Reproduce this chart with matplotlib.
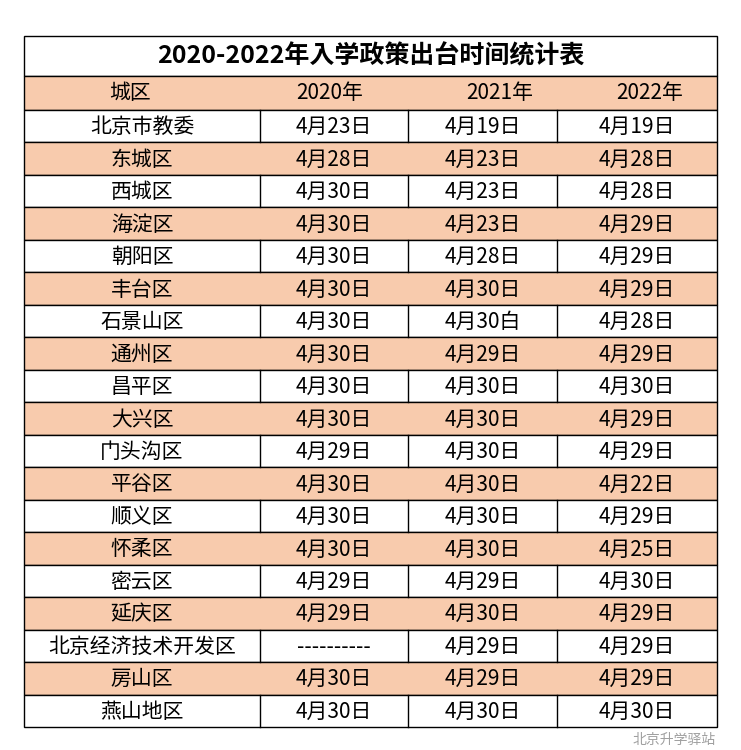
import matplotlib
matplotlib.use("Agg")
import matplotlib.pyplot as plt
from matplotlib.patches import Rectangle
from matplotlib import font_manager as fm

for f in fm.findSystemFonts():
    n = f.lower()
    if "cjk" in n or "notosanssc" in n or "wqy" in n:
        try:
            fm.fontManager.addfont(f)
        except Exception:
            pass
names = [f.name for f in fm.fontManager.ttflist if "CJK" in f.name]
fam = "Noto Sans CJK SC" if "Noto Sans CJK SC" in names else (names[0] if names else "DejaVu Sans")
plt.rcParams["font.family"] = [fam, "DejaVu Sans"]

title = "2020-2022年入学政策出台时间统计表"
headers = ["城区", "2020年", "2021年", "2022年"]
districts = ["北京市教委", "东城区", "西城区", "海淀区", "朝阳区", "丰台区", "石景山区", "通州区",
             "昌平区", "大兴区", "门头沟区", "平谷区", "顺义区", "怀柔区", "密云区", "延庆区",
             "北京经济技术开发区", "房山区", "燕山地区"]
y2020 = ["4月23日", "4月28日", "4月30日", "4月30日", "4月30日", "4月30日", "4月30日", "4月30日",
         "4月30日", "4月30日", "4月29日", "4月30日", "4月30日", "4月30日", "4月29日", "4月29日",
         "----------", "4月30日", "4月30日"]
y2021 = ["4月19日", "4月23日", "4月23日", "4月23日", "4月28日", "4月30日", "4月30白", "4月29日",
         "4月30日", "4月30日", "4月30日", "4月30日", "4月30日", "4月30日", "4月29日", "4月30日",
         "4月29日", "4月29日", "4月30日"]
y2022 = ["4月19日", "4月28日", "4月28日", "4月29日", "4月29日", "4月29日", "4月28日", "4月29日",
         "4月30日", "4月29日", "4月29日", "4月22日", "4月29日", "4月25日", "4月30日", "4月29日",
         "4月29日", "4月29日", "4月30日"]

ORANGE = "#F8CBAD"
fig = plt.figure(figsize=(7.41, 7.5), dpi=100)
ax = fig.add_axes([0, 0, 1, 1])
ax.set_xlim(0, 741); ax.set_ylim(750, 0); ax.axis("off")

L, R = 24, 717
cols = [24, 260, 408, 557, 717]
top, t_bot, h_bot = 36, 76, 110
rh = (727 - h_bot) / len(districts)

ax.add_patch(Rectangle((L, top), R - L, t_bot - top, fc="white", ec="black", lw=1))
ax.text((L + R) / 2, (top + t_bot) / 2, title, ha="center", va="center", fontsize=18,
        fontweight="bold")
ax.add_patch(Rectangle((L, t_bot), R - L, h_bot - t_bot, fc=ORANGE, ec="black", lw=1))
hx = [130, 330, 500, 650]
for x, h in zip(hx, headers):
    ax.text(x, (t_bot + h_bot) / 2, h, ha="center", va="center", fontsize=15)

for i, row in enumerate(zip(districts, y2020, y2021, y2022)):
    y0 = h_bot + i * rh
    orange = i % 2 == 1
    ax.add_patch(Rectangle((L, y0), R - L, rh, fc=ORANGE if orange else "white", ec="black", lw=1))
    if not orange:
        for cx in cols[1:-1]:
            ax.plot([cx, cx], [y0, y0 + rh], color="black", lw=1)
    for j, txt in enumerate(row):
        cxm = (cols[j] + cols[j + 1]) / 2
        ax.text(cxm, y0 + rh / 2 + 1, txt, ha="center", va="center", fontsize=15)

ax.text(716, 740, "北京升学驿站", ha="right", va="center", fontsize=10,
        color="#888888", alpha=0.8)
fig.savefig("out.png", dpi=100)
